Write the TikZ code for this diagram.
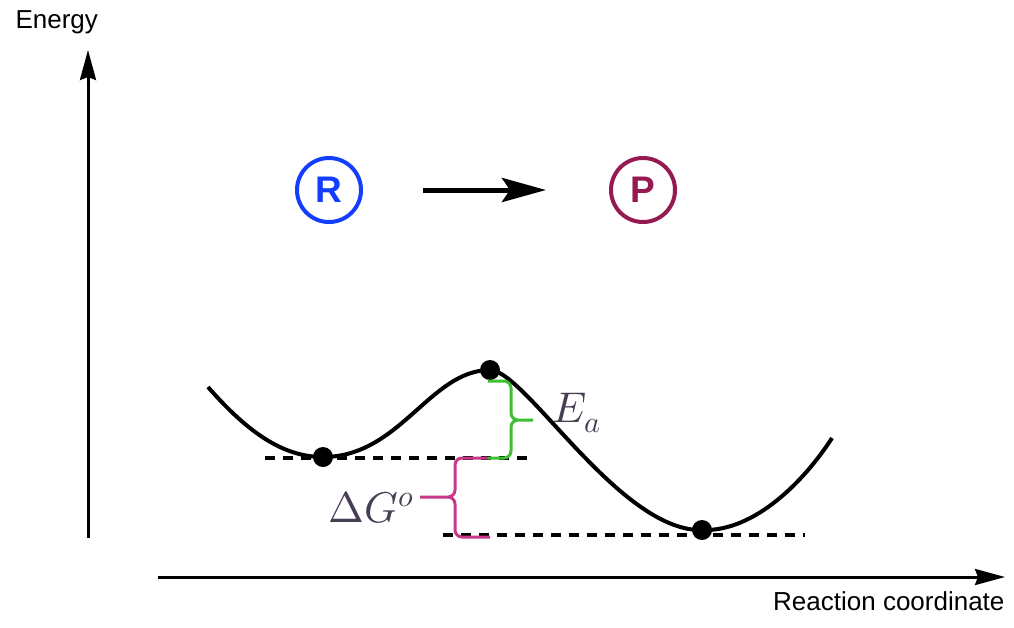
\documentclass[tikz,border=0pt]{standalone}
\usepackage{fontspec}
\usepackage{unicode-math}
\setmathfont{Latin Modern Math}
\setsansfont{Liberation Sans}
\usetikzlibrary{
  arrows.meta,
  positioning
}
\definecolor{ReactBlue}{RGB}{20,62,255}
\definecolor{ProdMaroon}{RGB}{150,26,82}
\definecolor{BarrierGreen}{RGB}{62,190,50}
\definecolor{FreeMagenta}{RGB}{200,56,136}
\definecolor{LabelGray}{RGB}{72,62,84}
\tikzset{
  axisline/.style={-{Stealth[length=30pt,width=16pt,inset=3pt]},line width=3pt},
  species/.style={circle,line width=4pt,minimum size=64pt,inner sep=0pt,font=\sffamily\bfseries\fontsize{37}{37}\selectfont},
  reacarrow/.style={-{Stealth[length=44pt,width=24pt,inset=8pt]},line width=5pt},
  profile/.style={line width=4pt},
  energylevel/.style={dash pattern=on 10pt off 8pt,line width=4pt},
  statedot/.style={circle,fill=black,minimum size=20pt,inner sep=0pt},
  bracestroke/.style={line width=3pt,rounded corners=7pt},
  axislabel/.style={font=\sffamily\fontsize{26}{30}\selectfont},
  quantity/.style={text=LabelGray,font=\fontsize{43}{48}\selectfont}
}

\begin{document}
\begin{tikzpicture}[x=1pt,y=-1pt]
\useasboundingbox (0,0) rectangle (1014,627);
% axes
\coordinate (ybot) at (88,538);
\coordinate (ytop) at (88,50);
\coordinate (xleft) at (158,577);
\coordinate (xright) at (1005,577);
\draw[axisline] (ybot) -- (ytop);
\draw[axisline] (xleft) -- (xright);
\node[axislabel,anchor=base west] (elabel) at (12,28) {Energy};
\node[axislabel,anchor=base east] (rclabel) at (1008,610) {Reaction coordinate};
% reaction
\node[species,draw=ReactBlue,text=ReactBlue] (R) at (329,190) {R};
\node[species,draw=ProdMaroon,text=ProdMaroon] (P) at (643,190) {P};
\draw[reacarrow,shorten <=60pt,shorten >=63pt] (R) -- (P);
% energy levels
\coordinate (rl) at (265,458);
\coordinate (rr) at (532,458);
\coordinate (pl) at (443,535);
\coordinate (pr) at (805,535);
\draw[energylevel] (rl) -- (rr);
\draw[energylevel] (pl) -- (pr);
% profile
\coordinate (cstart) at (208,387);
\coordinate (rmin) at (323,457);
\coordinate (tsmax) at (490,370);
\coordinate (pmin) at (702,530);
\coordinate (cend) at (832,438);
\draw[profile] (cstart) .. controls (250,435) and (285,457) .. (rmin)
  .. controls (400,457) and (430,370) .. (tsmax)
  .. controls (525,370) and (620,532) .. (pmin)
  .. controls (755,532) and (805,480) .. (cend);
\node[statedot] (react) at (rmin) {};
\node[statedot] (ts) at (tsmax) {};
\node[statedot] (prod) at (pmin) {};
% braces
\coordinate (eatop) at (488,381);
\coordinate (eabot) at (488,458);
\coordinate (eatip) at (533,420);
\coordinate (dgtop) at (488,458);
\coordinate (dgbot) at (490,537);
\coordinate (dgtip) at (420,497);
\draw[bracestroke,draw=BarrierGreen] (eatop) -- (511,381) -- (511,420) -- (eatip)
  (eabot) -- (511,458) -- (511,420) -- (eatip);
\draw[bracestroke,draw=FreeMagenta] (dgtop) -- (455,458) -- (455,497) -- (dgtip)
  (dgbot) -- (455,537) -- (455,497) -- (dgtip);
\node[quantity,anchor=base west] (ea) at (549,422) {$E_a$};
\node[quantity,anchor=base east] (dg) at (417,522) {$\Delta G^o$};
\end{tikzpicture}
\end{document}
